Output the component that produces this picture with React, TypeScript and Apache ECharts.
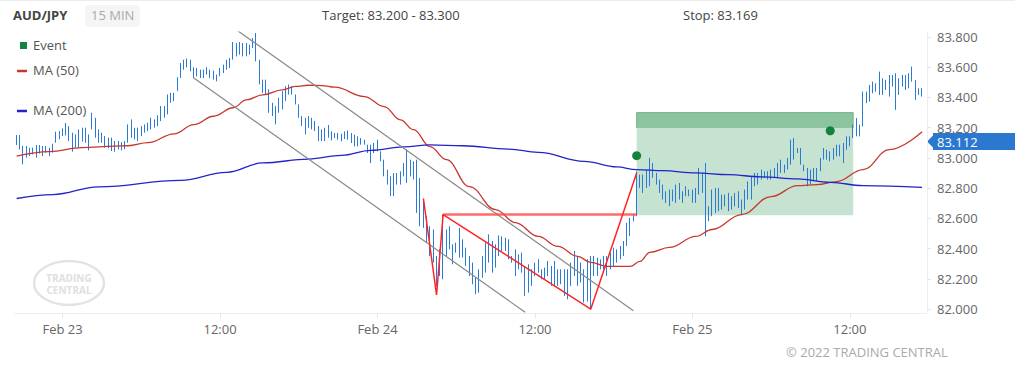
import React, { useEffect, useRef } from "react";
import * as echarts from "echarts";

// ---- categories: 15-minute bars, Feb 22 20:30 .. Feb 25 17:45 ----
const MONTHS = ["Jan", "Feb", "Mar", "Apr", "May", "Jun", "Jul", "Aug", "Sep", "Oct", "Nov", "Dec"];
const START_MS = Date.UTC(2022, 1, 22, 20, 30);
const STEP_MS = 15 * 60 * 1000;
const AXIS_SLOTS = 278;
const categories: string[] = Array.from({ length: AXIS_SLOTS }, (_, k) => {
  const d = new Date(START_MS + k * STEP_MS);
  const hh = String(d.getUTCHours()).padStart(2, "0");
  const mm = String(d.getUTCMinutes()).padStart(2, "0");
  return `${MONTHS[d.getUTCMonth()]} ${d.getUTCDate()} ${hh}:${mm}`;
});

// ---- OHLC bars: [open, close, low, high] ----
const bars: number[][] = [
  [83.14, 83.10, 83.086, 83.152], [83.12, 83.06, 83.057, 83.152], [83.06, 83.01, 82.958, 83.079], [83.01, 83.05, 83.002, 83.079],
  [83.05, 83.03, 83.013, 83.068], [83.03, 83.06, 83.024, 83.068], [83.06, 83.02, 83.002, 83.086], [83.03, 83.07, 83.029, 83.086],
  [83.07, 83.03, 83.013, 83.079], [83.04, 83.07, 83.035, 83.079], [83.06, 83.03, 83.013, 83.068], [83.04, 83.09, 83.035, 83.094],
  [83.11, 83.16, 83.101, 83.174], [83.16, 83.13, 83.123, 83.178], [83.15, 83.18, 83.145, 83.196], [83.18, 83.21, 83.149, 83.231],
  [83.20, 83.13, 83.112, 83.211], [83.13, 83.07, 83.042, 83.167], [83.08, 83.14, 83.068, 83.156], [83.14, 83.08, 83.068, 83.189],
  [83.12, 83.18, 83.108, 83.200], [83.18, 83.11, 83.101, 83.200], [83.11, 83.14, 83.050, 83.156], [83.20, 83.28, 83.189, 83.299],
  [83.26, 83.15, 83.134, 83.266], [83.16, 83.12, 83.101, 83.189], [83.15, 83.11, 83.101, 83.167], [83.12, 83.08, 83.068, 83.145],
  [83.08, 83.12, 83.064, 83.134], [83.12, 83.06, 83.046, 83.134], [83.10, 83.05, 83.042, 83.112], [83.06, 83.09, 83.057, 83.112],
  [83.09, 83.06, 83.050, 83.105], [83.06, 83.10, 83.057, 83.112], [83.11, 83.21, 83.101, 83.222], [83.21, 83.15, 83.134, 83.255],
  [83.15, 83.19, 83.123, 83.200], [83.19, 83.12, 83.112, 83.200], [83.15, 83.20, 83.145, 83.211], [83.19, 83.21, 83.167, 83.222],
  [83.21, 83.19, 83.178, 83.233], [83.20, 83.25, 83.189, 83.266], [83.25, 83.21, 83.200, 83.255], [83.22, 83.27, 83.211, 83.283],
  [83.26, 83.33, 83.244, 83.343], [83.33, 83.28, 83.266, 83.343], [83.30, 83.41, 83.288, 83.420], [83.41, 83.38, 83.365, 83.431],
  [83.38, 83.42, 83.376, 83.431], [83.45, 83.52, 83.442, 83.534], [83.53, 83.62, 83.529, 83.628], [83.62, 83.60, 83.584, 83.650],
  [83.60, 83.64, 83.600, 83.657], [83.64, 83.58, 83.573, 83.650], [83.58, 83.54, 83.529, 83.600], [83.54, 83.58, 83.540, 83.595],
  [83.58, 83.54, 83.529, 83.584], [83.54, 83.57, 83.529, 83.584], [83.57, 83.59, 83.551, 83.600], [83.58, 83.54, 83.529, 83.584],
  [83.54, 83.53, 83.518, 83.578], [83.55, 83.51, 83.507, 83.551], [83.55, 83.59, 83.540, 83.595], [83.59, 83.61, 83.562, 83.617],
  [83.59, 83.64, 83.584, 83.650], [83.64, 83.61, 83.595, 83.661], [83.66, 83.75, 83.650, 83.767], [83.75, 83.69, 83.672, 83.760],
  [83.69, 83.75, 83.683, 83.767], [83.75, 83.69, 83.672, 83.760], [83.69, 83.74, 83.672, 83.760], [83.74, 83.70, 83.683, 83.749],
  [83.73, 83.78, 83.727, 83.793], [83.78, 83.66, 83.639, 83.826], [83.65, 83.50, 83.486, 83.650], [83.50, 83.44, 83.431, 83.518],
  [83.44, 83.50, 83.420, 83.518], [83.45, 83.31, 83.299, 83.453], [83.31, 83.35, 83.277, 83.365], [83.34, 83.24, 83.222, 83.343],
  [83.30, 83.39, 83.299, 83.398], [83.39, 83.43, 83.321, 83.442], [83.43, 83.38, 83.376, 83.475], [83.42, 83.47, 83.420, 83.486],
  [83.47, 83.43, 83.420, 83.475], [83.41, 83.36, 83.354, 83.420], [83.35, 83.28, 83.266, 83.354], [83.27, 83.22, 83.211, 83.277],
  [83.22, 83.25, 83.156, 83.266], [83.25, 83.21, 83.200, 83.277], [83.21, 83.25, 83.189, 83.266], [83.24, 83.19, 83.178, 83.244],
  [83.19, 83.13, 83.112, 83.211], [83.13, 83.17, 83.112, 83.189], [83.17, 83.13, 83.112, 83.200], [83.14, 83.20, 83.134, 83.218],
  [83.17, 83.13, 83.116, 83.176], [83.14, 83.16, 83.132, 83.165], [83.16, 83.13, 83.121, 83.165], [83.13, 83.15, 83.110, 83.160],
  [83.15, 83.17, 83.125, 83.176], [83.17, 83.13, 83.121, 83.182], [83.13, 83.11, 83.099, 83.165], [83.11, 83.09, 83.077, 83.154],
  [83.09, 83.13, 83.077, 83.143], [83.12, 83.10, 83.088, 83.132], [83.10, 83.11, 83.088, 83.121], [83.08, 83.04, 83.033, 83.088],
  [83.07, 82.98, 82.967, 83.088], [83.04, 83.09, 83.033, 83.099], [83.09, 83.06, 83.044, 83.121], [83.04, 82.99, 82.978, 83.044],
  [82.98, 82.89, 82.879, 82.989], [82.91, 82.84, 82.824, 82.923], [82.86, 82.76, 82.747, 82.879], [82.76, 82.89, 82.747, 82.901],
  [82.89, 82.84, 82.824, 82.901], [82.84, 82.90, 82.824, 82.912], [82.90, 82.95, 82.879, 82.967], [82.95, 82.87, 82.835, 83.055],
  [82.89, 82.97, 82.879, 82.989], [82.96, 82.88, 82.857, 82.978], [82.97, 82.66, 82.637, 82.989], [82.66, 82.58, 82.549, 82.868],
  [82.58, 82.70, 82.538, 82.725], [82.60, 82.46, 82.440, 82.615], [82.46, 82.38, 82.352, 82.549], [82.38, 82.33, 82.308, 82.527],
  [82.33, 82.17, 82.154, 82.352], [82.23, 82.38, 82.220, 82.396], [82.38, 82.24, 82.198, 82.626], [82.36, 82.50, 82.352, 82.527],
  [82.50, 82.42, 82.396, 82.549], [82.42, 82.31, 82.297, 82.429], [82.38, 82.43, 82.374, 82.440], [82.42, 82.52, 82.341, 82.538],
  [82.46, 82.35, 82.341, 82.462], [82.35, 82.30, 82.286, 82.407], [82.33, 82.24, 82.220, 82.352], [82.25, 82.18, 82.165, 82.308],
  [82.19, 82.11, 82.099, 82.209], [82.12, 82.25, 82.110, 82.264], [82.24, 82.34, 82.209, 82.352], [82.33, 82.43, 82.242, 82.440],
  [82.43, 82.33, 82.308, 82.495], [82.33, 82.43, 82.242, 82.451], [82.43, 82.29, 82.275, 82.429], [82.36, 82.47, 82.352, 82.488],
  [82.47, 82.40, 82.385, 82.483], [82.40, 82.46, 82.385, 82.473], [82.45, 82.34, 82.330, 82.462], [82.34, 82.32, 82.308, 82.352],
  [82.32, 82.24, 82.220, 82.396], [82.26, 82.35, 82.264, 82.363], [82.35, 82.26, 82.242, 82.374], [82.27, 82.10, 82.088, 82.286],
  [82.11, 82.28, 82.110, 82.297], [82.25, 82.17, 82.154, 82.264], [82.23, 82.30, 82.220, 82.308], [82.30, 82.26, 82.242, 82.330],
  [82.26, 82.21, 82.198, 82.264], [82.21, 82.26, 82.198, 82.275], [82.26, 82.30, 82.220, 82.319], [82.28, 82.17, 82.154, 82.286],
  [82.17, 82.30, 82.154, 82.319], [82.25, 82.17, 82.154, 82.264], [82.17, 82.25, 82.165, 82.264], [82.25, 82.10, 82.088, 82.264],
  [82.10, 82.24, 82.066, 82.264], [82.23, 82.29, 82.154, 82.308], [82.29, 82.37, 82.220, 82.385], [82.34, 82.17, 82.154, 82.352],
  [82.18, 82.29, 82.176, 82.308], [82.26, 82.06, 82.044, 82.264], [82.31, 82.08, 82.050, 82.330], [82.08, 82.33, 82.000, 82.352],
  [82.33, 82.24, 82.220, 82.352], [82.24, 82.33, 82.220, 82.341], [82.32, 82.28, 82.264, 82.330], [82.28, 82.34, 82.264, 82.352],
  [82.33, 82.25, 82.220, 82.352], [82.26, 82.36, 82.264, 82.374], [82.35, 82.39, 82.286, 82.407], [82.38, 82.33, 82.308, 82.396],
  [82.34, 82.41, 82.330, 82.418], [82.40, 82.44, 82.352, 82.451], [82.43, 82.56, 82.418, 82.571], [82.55, 82.59, 82.483, 82.604],
  [82.59, 82.62, 82.582, 82.626], [82.62, 82.90, 82.615, 82.912], [82.88, 82.82, 82.802, 82.890], [82.82, 82.88, 82.769, 82.890],
  [82.87, 82.91, 82.802, 82.923], [82.82, 82.99, 82.813, 83.000], [82.95, 82.88, 82.868, 82.967], [82.88, 82.84, 82.824, 82.901],
  [82.84, 82.78, 82.769, 82.857], [82.79, 82.74, 82.725, 82.824], [82.74, 82.72, 82.703, 82.780], [82.72, 82.77, 82.681, 82.791],
  [82.78, 82.72, 82.714, 82.791], [82.72, 82.80, 82.703, 82.824], [82.80, 82.74, 82.725, 82.835], [82.74, 82.72, 82.703, 82.780],
  [82.75, 82.80, 82.747, 82.813], [82.79, 82.76, 82.747, 82.791], [82.77, 82.71, 82.703, 82.791], [82.72, 82.79, 82.703, 82.802],
  [82.78, 82.90, 82.758, 82.934], [82.89, 82.79, 82.769, 82.901], [82.79, 82.60, 82.483, 82.967], [82.60, 82.66, 82.582, 82.681],
  [82.66, 82.76, 82.615, 82.791], [82.76, 82.66, 82.637, 82.802], [82.66, 82.78, 82.648, 82.802], [82.75, 82.68, 82.659, 82.758],
  [82.69, 82.74, 82.681, 82.758], [82.74, 82.66, 82.648, 82.769], [82.67, 82.73, 82.659, 82.747], [82.73, 82.70, 82.681, 82.769],
  [82.70, 82.76, 82.670, 82.780], [82.71, 82.64, 82.626, 82.725], [82.66, 82.77, 82.659, 82.791], [82.77, 82.83, 82.725, 82.846],
  [82.75, 82.86, 82.725, 82.879], [82.86, 82.83, 82.813, 82.901], [82.84, 82.89, 82.824, 82.901], [82.89, 82.87, 82.857, 82.923],
  [82.87, 82.90, 82.868, 82.912], [82.90, 82.87, 82.857, 82.912], [82.87, 82.91, 82.857, 82.923], [82.91, 82.88, 82.868, 82.934],
  [82.88, 82.95, 82.868, 82.967], [82.95, 82.92, 82.901, 82.989], [82.92, 82.95, 82.901, 82.956], [82.94, 82.99, 82.923, 83.000],
  [82.97, 83.11, 82.956, 83.121], [83.11, 83.00, 82.989, 83.132], [83.04, 83.06, 83.033, 83.066], [83.06, 82.97, 82.956, 83.066],
  [82.95, 82.92, 82.912, 82.956], [82.92, 82.83, 82.813, 82.934], [82.83, 82.90, 82.824, 82.923], [82.90, 82.86, 82.846, 82.934],
  [82.86, 82.92, 82.846, 82.934], [82.92, 82.99, 82.912, 83.000], [82.99, 83.06, 82.989, 83.066], [83.05, 83.00, 82.989, 83.055],
  [83.00, 83.03, 82.978, 83.044], [83.00, 83.06, 82.989, 83.066], [83.06, 83.03, 83.011, 83.088], [83.02, 83.08, 83.011, 83.088],
  [83.08, 83.00, 82.967, 83.099], [83.06, 83.13, 83.055, 83.143], [83.13, 83.10, 83.077, 83.143], [83.14, 83.21, 83.132, 83.220],
  [83.21, 83.16, 83.143, 83.264], [83.15, 83.21, 83.143, 83.220], [83.21, 83.43, 83.209, 83.439], [83.43, 83.38, 83.362, 83.439],
  [83.38, 83.47, 83.373, 83.483], [83.46, 83.49, 83.428, 83.505], [83.49, 83.45, 83.439, 83.494], [83.45, 83.55, 83.417, 83.571],
  [83.52, 83.43, 83.417, 83.527], [83.45, 83.51, 83.450, 83.516], [83.51, 83.44, 83.406, 83.549], [83.48, 83.54, 83.472, 83.549],
  [83.54, 83.42, 83.318, 83.560], [83.43, 83.51, 83.417, 83.527], [83.54, 83.48, 83.472, 83.549], [83.47, 83.54, 83.450, 83.549],
  [83.53, 83.49, 83.461, 83.560], [83.51, 83.59, 83.505, 83.604], [83.51, 83.40, 83.384, 83.516], [83.42, 83.45, 83.417, 83.461],
  [83.45, 83.42, 83.406, 83.461],
];

// ---- moving averages: [bar index, value] ----
const ma50: number[][] = [
  [0, 83.012], [10, 83.042], [20, 83.068], [30, 83.079], [34, 83.081], [40, 83.101], [48, 83.160], [54, 83.220],
  [60, 83.276], [66, 83.332], [70, 83.384], [75, 83.417], [81, 83.450], [85, 83.473], [89, 83.481], [93, 83.479],
  [97, 83.468], [106, 83.406], [112, 83.340], [117, 83.252], [121, 83.187], [126, 83.075], [131, 82.989], [138, 82.811],
  [146, 82.659], [152, 82.573], [159, 82.481], [165, 82.415], [171, 82.349], [175, 82.310], [180, 82.283], [187, 82.283],
  [190, 82.316], [193, 82.376], [199, 82.409], [207, 82.481], [212, 82.527], [221, 82.626], [230, 82.745], [238, 82.817],
  [244, 82.824], [250, 82.844], [258, 82.923], [266, 83.055], [276, 83.173],
];
const ma200: number[][] = [
  [0, 82.732], [11, 82.758], [25, 82.809], [50, 82.852], [64, 82.905], [75, 82.967], [89, 82.993], [99, 83.017],
  [108, 83.050], [118, 83.073], [126, 83.086], [136, 83.081], [150, 83.059], [159, 83.037], [173, 82.978], [183, 82.941],
  [189, 82.923], [197, 82.916], [207, 82.901], [217, 82.890], [227, 82.875], [238, 82.862], [248, 82.839], [258, 82.817],
  [276, 82.806],
];

// ---- drawn analysis objects ----
const channelUpper: number[][] = [[67, 83.847], [188, 81.990]];
const channelLower: number[][] = [[54, 83.529], [155, 81.980]];
const patternLine: number[][] = [[124, 82.732], [128, 82.094], [130, 82.626], [175, 82.0], [189, 82.901]];
const neckLine: number[][] = [[130, 82.626], [189, 82.626]];
const events: number[][] = [[189, 83.015], [248, 83.18]];
const targetTop = 83.3;
const targetBottom = 83.2;
const entryLevel = 82.622;
const zoneStart = 189;
const zoneEnd = 254.5;
const lastPrice = 83.112;
const priceTicks = [82.0, 82.2, 82.4, 82.6, 82.8, 83.0, 83.2, 83.4, 83.6, 83.8];

const FONT = "'Open Sans', 'Noto Sans', sans-serif";
const BAR_BLUE = "#2b7bd4";

const isMajor = (_i: number, v: string) => v.endsWith("00:00") || v.endsWith("12:00");

export default function App() {
  const ref = useRef<HTMLDivElement>(null);
  useEffect(() => {
    document.body.style.margin = "0";
    if (!ref.current) return;
    const chart = echarts.init(ref.current, undefined, { renderer: "svg" });

    const staticGraphics: any[] = [
      { type: "line", shape: { x1: 0, y1: 0.5, x2: 1015, y2: 0.5 }, style: { stroke: "#ececec", lineWidth: 1 } },
      { type: "text", left: 13, top: 8, style: { text: "AUD/JPY", font: `bold 13px ${FONT}`, fill: "#444" } },
      { type: "rect", shape: { x: 85, y: 5, width: 55, height: 22, r: 4 }, style: { fill: "#f5f5f5" } },
      { type: "text", left: 91, top: 8, style: { text: "15 MIN", font: `13px ${FONT}`, fill: "#aaaaaa" } },
      { type: "text", left: 322, top: 8, style: { text: "Target: 83.200 - 83.300", font: `13px ${FONT}`, fill: "#444" } },
      { type: "text", left: 683, top: 8, style: { text: "Stop: 83.169", font: `13px ${FONT}`, fill: "#444" } },
      // legend
      { type: "rect", shape: { x: 20, y: 42, width: 7, height: 7 }, style: { fill: "#14843f" } },
      { type: "text", left: 33, top: 38, style: { text: "Event", font: `13px ${FONT}`, fill: "#555" } },
      { type: "line", shape: { x1: 17, y1: 71, x2: 27, y2: 71 }, style: { stroke: "#c8372c", lineWidth: 2.5 } },
      { type: "text", left: 33, top: 63, style: { text: "MA (50)", font: `13px ${FONT}`, fill: "#555" } },
      { type: "line", shape: { x1: 17, y1: 111, x2: 27, y2: 111 }, style: { stroke: "#2323c8", lineWidth: 2.5 } },
      { type: "text", left: 33, top: 103, style: { text: "MA (200)", font: `13px ${FONT}`, fill: "#555" } },
      // watermark
      { type: "ellipse", shape: { cx: 69, cy: 283, rx: 35, ry: 22 }, style: { fill: "none", stroke: "#e3e3e3", lineWidth: 2.5 } },
      {
        type: "text", x: 69, y: 277.5,
        style: { text: "TRADING", font: `bold 10px ${FONT}`, lineHeight: 10, fill: "#e0e0e0", align: "center", verticalAlign: "middle" },
      },
      {
        type: "text", x: 69, y: 289.5,
        style: { text: "CENTRAL", font: `bold 10px ${FONT}`, lineHeight: 10, fill: "#e0e0e0", align: "center", verticalAlign: "middle" },
      },
      // copyright
      { type: "text", x: 786, y: 352, style: { text: "© 2022 TRADING CENTRAL", font: `13px ${FONT}`, fill: "#aaaaaa", verticalAlign: "middle" } },
    ];

    const option: any = {
      animation: false,
      grid: { left: 15, right: 88, top: 32, bottom: 54 },
      xAxis: {
        type: "category",
        data: categories,
        boundaryGap: true,
        axisLine: { show: true, lineStyle: { color: "#eeeeee" } },
        axisTick: { show: true, interval: isMajor, alignWithLabel: true, length: 5, lineStyle: { color: "#e6e6e6" } },
        axisLabel: {
          interval: isMajor,
          color: "#666",
          fontSize: 13,
          fontFamily: FONT,
          margin: 9,
          formatter: (v: string) => (v.endsWith("00:00") ? v.slice(0, v.length - 6) : v.slice(v.length - 5)),
        },
        splitLine: { show: false },
      },
      yAxis: {
        type: "value",
        position: "right",
        min: 81.975,
        max: 83.833,
        axisLine: { show: true, lineStyle: { color: "#eeeeee" } },
        axisTick: { show: true, customValues: priceTicks, length: 4, lineStyle: { color: "#e6e6e6" } },
        axisLabel: {
          customValues: priceTicks,
          color: "#666",
          fontSize: 13,
          fontFamily: FONT,
          margin: 10,
          lineHeight: 13,
          formatter: (v: number) => v.toFixed(3),
        },
        splitLine: { show: false },
      },
      series: [
        {
          name: "zone",
          type: "line",
          data: [[zoneStart, targetBottom], [zoneStart + 1, targetBottom]],
          symbol: "none",
          lineStyle: { opacity: 0 },
          z: 1,
          silent: true,
          markArea: {
            silent: true,
            data: [
              [
                { xAxis: zoneStart, yAxis: targetTop, itemStyle: { color: "#8bc49f", borderColor: "#74b48e", borderWidth: 1 } },
                { xAxis: zoneEnd, yAxis: targetBottom },
              ],
              [
                { xAxis: zoneStart, yAxis: targetBottom, itemStyle: { color: "#c5e3d0" } },
                { xAxis: zoneEnd, yAxis: entryLevel },
              ],
            ],
          },
        },
        {
          name: "AUD/JPY",
          type: "candlestick",
          data: bars,
          barWidth: 1,
          z: 3,
          itemStyle: {
            color: BAR_BLUE,
            color0: BAR_BLUE,
            borderColor: BAR_BLUE,
            borderColor0: BAR_BLUE,
            borderColorDoji: BAR_BLUE,
            borderWidth: 1,
          },
        },
        {
          name: "MA (50)", type: "line", data: ma50, smooth: 0.4, smoothMonotone: "x", symbol: "none", z: 4,
          lineStyle: { color: "#c8372c", width: 1.3 },
        },
        {
          name: "MA (200)", type: "line", data: ma200, smooth: 0.4, smoothMonotone: "x", symbol: "none", z: 4,
          lineStyle: { color: "#2323c8", width: 1.3 },
        },
        { name: "channelUpper", type: "line", data: channelUpper, symbol: "none", z: 4, lineStyle: { color: "#888888", width: 1.2 } },
        { name: "channelLower", type: "line", data: channelLower, symbol: "none", z: 4, lineStyle: { color: "#888888", width: 1.2 } },
        { name: "neck", type: "line", data: neckLine, symbol: "none", z: 5, lineStyle: { color: "rgba(255,70,70,0.8)", width: 2.5 } },
        { name: "pattern", type: "line", data: patternLine, symbol: "none", z: 5, lineStyle: { color: "#ff2424", width: 1.5 } },
        {
          name: "Event", type: "scatter", data: events, symbol: "circle", symbolSize: 9, z: 6,
          itemStyle: { color: "#12823c", opacity: 1 },
        },
      ],
      graphic: staticGraphics,
    };

    chart.setOption(option);

    const py = chart.convertToPixel({ yAxisIndex: 0 }, lastPrice) as number;
    const ax = 927;
    const tag: any[] = [
      { type: "polygon", shape: { points: [[ax, py + 0.5], [ax + 7, py - 6.5], [ax + 7, py + 7.5]] }, style: { fill: "#2b78d0" } },
      { type: "rect", shape: { x: ax + 6, y: py - 8, width: 82, height: 17 }, style: { fill: "#2b78d0" } },
      { type: "text", x: ax + 10, y: py + 0.5, style: { text: lastPrice.toFixed(3), font: `13px ${FONT}`, lineHeight: 13, fill: "#ffffff", verticalAlign: "middle" } },
    ];
    chart.setOption({ graphic: [...staticGraphics, ...tag] });

    return () => chart.dispose();
  }, []);

  return <div ref={ref} style={{ width: 1015, height: 367 }} />;
}
